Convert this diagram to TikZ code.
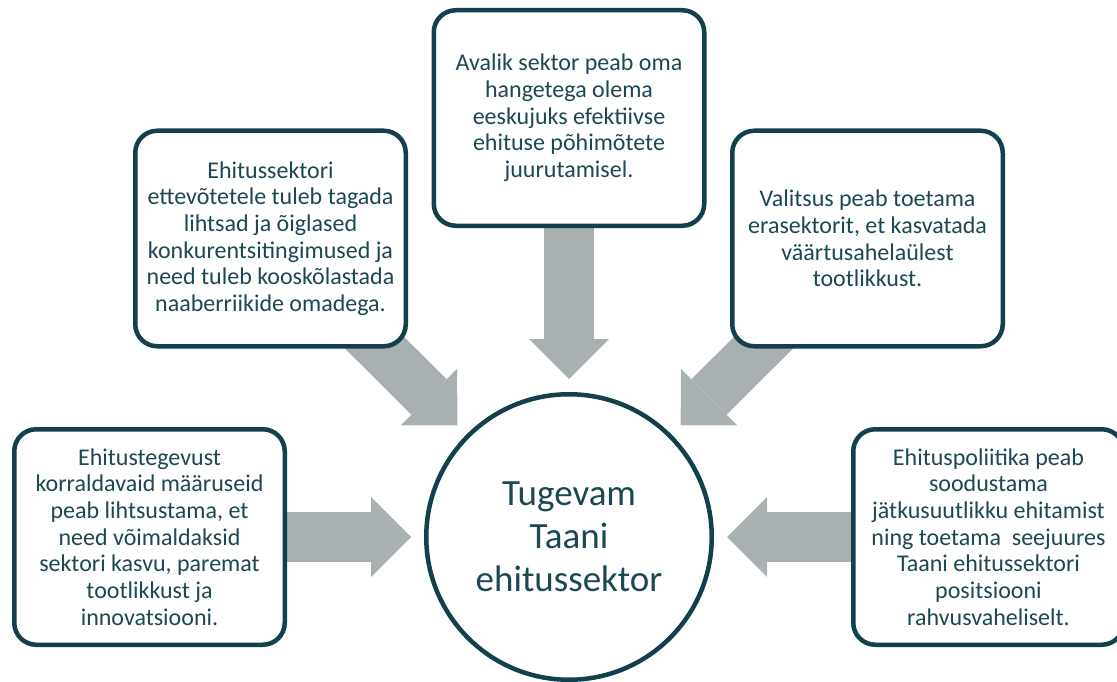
\documentclass[tikz,border=0pt]{standalone}
\usepackage{fontspec}
\setmainfont{Carlito}
\usepackage{xcolor}
\usepackage{tikz}
\usetikzlibrary{arrows.meta, backgrounds}
\definecolor{tealline}{HTML}{12404B}
\definecolor{tealtext}{HTML}{1B4853}
\definecolor{arrowgray}{HTML}{A9B0B1}

\begin{document}
\begin{tikzpicture}[
    x=1pt, y=-1pt,
    idea/.style={draw=tealline, line width=4.5pt, fill=white, rounded corners=22pt,
        minimum width=270.5pt, minimum height=215.5pt, align=center, text=tealtext,
        font=\fontsize{24}{26.7}\selectfont},
    hubnode/.style={draw=tealline, line width=4.5pt, fill=white, circle, minimum size=285.5pt,
        align=center, text=tealtext, font=\fontsize{37}{43}\selectfont},
    bigarrow/.style={draw=arrowgray, line width=50pt,
        -{Triangle[length=40pt, width=80pt, line width=0pt]}, shorten >=13pt, shorten <=-25pt}
]
\useasboundingbox (0,0) rectangle (1117,682);

\node[hubnode] (hub) at (569,537) {Tugevam\\Taani\\ehitussektor};
\node[idea] (public) at (569,118) {Avalik sektor peab oma\\hangetega olema\\eeskujuks efektiivse\\ehituse põhimõtete\\juurutamisel.};
\node[idea] (companies) at (270.5,238.5) {Ehitussektori\\ettevõtetele tuleb tagada\\lihtsad ja õiglased\\konkurentsitingimused ja\\need tuleb kooskõlastada\\naaberriikide omadega.};
\node[idea] (government) at (867.5,238.5) {Valitsus peab toetama\\erasektorit, et kasvatada\\väärtusahelaülest\\tootlikkust.};
\node[idea] (rules) at (149.5,537) {Ehitustegevust\\korraldavaid määruseid\\peab lihtsustama, et\\need võimaldaksid\\sektori kasvu, paremat\\tootlikkust ja\\innovatsiooni.};
\node[idea] (policy) at (988.5,537) {Ehituspoliitika peab\\soodustama\\jätkusuutlikku ehitamist\\ning toetama \ seejuures\\Taani ehitussektori\\positsiooni\\rahvusvaheliselt.};

\begin{scope}[on background layer]
\draw[bigarrow] (public) -- (hub);
\draw[bigarrow] (companies) -- (hub);
\draw[bigarrow] (government) -- (hub);
\draw[bigarrow] (rules) -- (hub);
\draw[bigarrow] (policy) -- (hub);
\end{scope}

\end{tikzpicture}
\end{document}
